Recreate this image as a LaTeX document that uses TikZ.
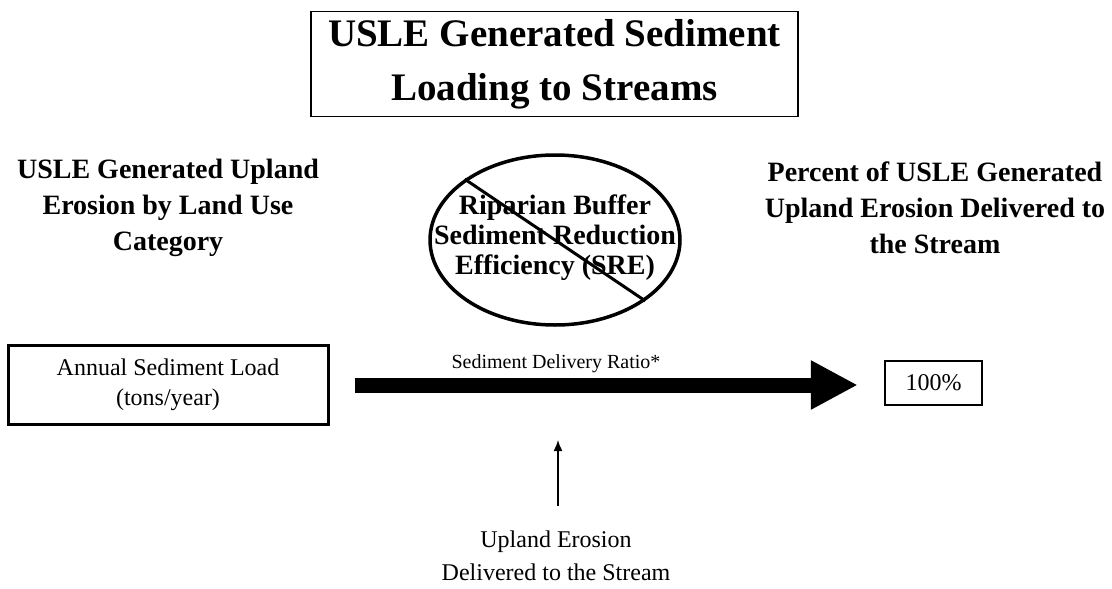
\documentclass[tikz,border=0pt]{standalone}
\usepackage{fontspec}
\setmainfont{Liberation Serif}
\usetikzlibrary{arrows.meta,shapes.geometric,positioning}

\begin{document}
\begin{tikzpicture}[x=1pt,y=-1pt,
    titlebox/.style={draw,line width=1.2pt,minimum width=487pt,minimum height=105pt,
      align=center,inner sep=0pt,font=\fontsize{39}{54}\selectfont\bfseries},
    heading/.style={align=center,inner sep=0pt,font=\fontsize{28}{36}\selectfont\bfseries},
    loadbox/.style={draw,line width=3pt,minimum width=320pt,minimum height=79pt,
      align=center,inner sep=0pt,font=\fontsize{24}{30}\selectfont},
    pctbox/.style={draw,line width=2.5pt,minimum width=97pt,minimum height=44pt,
      inner sep=0pt,font=\fontsize{24}{30}\selectfont},
    sreoval/.style={draw,ellipse,line width=3.5pt,minimum width=250pt,minimum height=170pt,inner sep=0pt},
    plain/.style={align=center,inner sep=0pt,font=\fontsize{24}{33}\selectfont},
    flow/.style={line width=15pt,-{Triangle[length=47pt,width=46pt]}},
    pointer/.style={line width=1.5pt,-{Latex[length=11pt,width=9pt]}}]
    \useasboundingbox (0,0) rectangle (1112,589);
    % title
    \node[titlebox] (title) at (554.5,64) {USLE Generated Sediment\\Loading to Streams};
    % column headings
    \node[heading] (upland) at (168,208) {USLE Generated Upland\\Erosion by Land Use\\Category};
    \node[heading] (delivered) at (935,208) {Percent of USLE Generated\\Upland Erosion Delivered to\\the Stream};
    % crossed out buffer
    \node[sreoval] (sre) at (555,240) {};
    \node[heading,font=\fontsize{28}{30}\selectfont\bfseries] (sretext) at (555,238)
      {Riparian Buffer\\Sediment Reduction\\Efficiency (SRE)};
    \draw[line width=3pt] (sre.146) -- (sre.-34);
    % flow row
    \node[loadbox] (load) at (168,385) {Annual Sediment Load\\(tons/year)};
    \node[pctbox] (pct) at (933.5,383) {100\%};
    \node[font=\fontsize{20}{24}\selectfont,inner sep=0pt] (sdr) at (556,364) {Sediment Delivery Ratio*};
    \draw[flow,shorten <=25pt,shorten >=26pt] (load.east) -- (load.east -| pct.west);
    % bottom label
    \node[plain] (erosion) at (556,556) {Upland Erosion\\Delivered to the Stream};
    \coordinate (tip) at (558,440);
    \draw[pointer,shorten <=25pt] (erosion.north -| tip) -- (tip);
\end{tikzpicture}
\end{document}
